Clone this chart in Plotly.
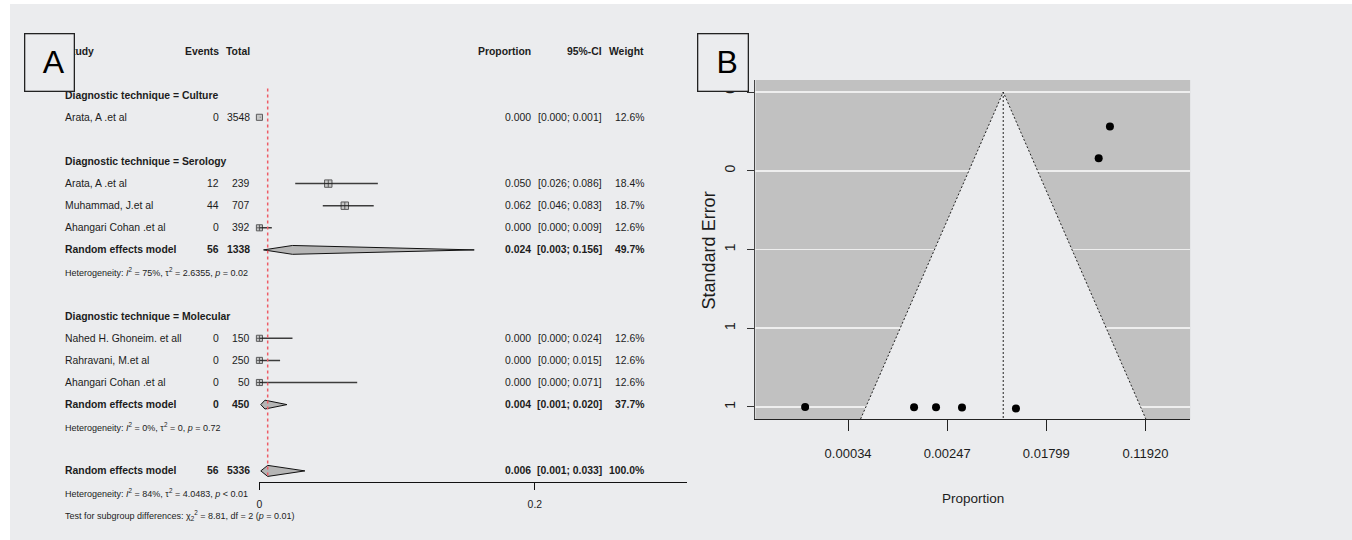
import plotly.graph_objects as go

W, H = 1352, 540

# ---------------- Panel A: forest plot data ----------------
group_names = ["Culture", "Serology", "Molecular"]
study_names = ["Arata, A .et al", "Arata, A .et al", "Muhammad, J.et al", "Ahangari Cohan .et al",
               "Nahed H. Ghoneim. et all", "Rahravani, M.et al", "Ahangari Cohan .et al"]
study_group = [0, 1, 1, 1, 2, 2, 2]
study_events = [0, 12, 44, 0, 0, 0, 0]
study_total = [3548, 239, 707, 392, 150, 250, 50]
study_prop = [0.000, 0.050, 0.062, 0.000, 0.000, 0.000, 0.000]
study_lo = [0.000, 0.026, 0.046, 0.000, 0.000, 0.000, 0.000]
study_hi = [0.001, 0.086, 0.083, 0.009, 0.024, 0.015, 0.071]
study_weight = [12.6, 18.4, 18.7, 12.6, 12.6, 12.6, 12.6]

sub_events = [None, 56, 0]
sub_total = [None, 1338, 450]
sub_prop = [None, 0.024, 0.004]
sub_lo = [None, 0.003, 0.001]
sub_hi = [None, 0.156, 0.020]
sub_weight = [None, 49.7, 37.7]
sub_het_I2 = [None, "75%", "0%"]
sub_het_tau2 = [None, "2.6355", "0"]
sub_het_p = [None, "= 0.02", "= 0.72"]

overall_events = 56
overall_total = 5336
overall_prop = 0.006
overall_lo = 0.001
overall_hi = 0.033
overall_weight = 100.0
overall_het = ("84%", "4.0483", "< 0.01")
subgroup_test = ("8.81", "2", "0.01")

forest_ticks = [0, 0.2]
forest_ticktext = ["0", "0.2"]

# ---------------- Panel B: funnel plot data (logit scale) ----------------
pooled_logit = -4.87
funnel_z = 1.96
pt_logit = [-2.944, -2.717, -8.867, -6.669, -6.226, -5.702, -4.613]
pt_se = [0.297, 0.155, 1.414, 1.415, 1.416, 1.417, 1.421]
funnel_xticks = [-8, -6, -4, -2]
funnel_xticktext = ["0.00034", "0.00247", "0.01799", "0.11920"]
funnel_yticks = [0, 0.3536, 0.7071, 1.0607, 1.4142]
funnel_yticktext = ["0", "0", "1", "1", "1"]

# ---------------- layout helpers ----------------
BG = "#ebecee"
TXT = "#1c1c1c"
FA = "Liberation Sans, Arial, sans-serif"

def px(x):
    return x / W

def py(y):
    return 1 - y / H

ROW0, ROWH = 51.0, 22.1
yA_range = [(H - ROW0) / ROWH, -ROW0 / ROWH]

fig = go.Figure()
ann = []

def txt(xpx, k, s, anchor="left", bold=False, size=10.4):
    if bold:
        s = "<b>" + s + "</b>"
    ann.append(dict(x=px(xpx), xref="paper", y=k, yref="y", text=s, showarrow=False,
                    xanchor=anchor, yanchor="middle", font=dict(family=FA, size=size, color=TXT)))

COL_STUDY, COL_EV, COL_TOT, COL_PROP, COL_CI, COL_W = 60, 218, 250, 531, 602, 644

def fmt_row(k, name, ev, tot, p, lo, hi, w, bold):
    txt(COL_STUDY, k, name, "left", bold)
    txt(COL_EV, k, str(ev), "right", bold)
    txt(COL_TOT, k, str(tot), "right", bold)
    txt(COL_PROP, k, f"{p:.3f}", "right", bold)
    txt(COL_CI, k, f"[{lo:.3f}; {hi:.3f}]", "right", bold)
    txt(COL_W, k, f"{w:.1f}%", "right", bold)

# header
txt(COL_STUDY, 0, "Study", "left", True)
txt(COL_EV, 0, "Events", "right", True)
txt(COL_TOT, 0, "Total", "right", True)
txt(COL_PROP, 0, "Proportion", "right", True)
txt(COL_CI, 0, "95%-CI", "right", True)
txt(COL_W, 0, "Weight", "right", True)

HET = 9.0
study_k = [None] * len(study_names)
diamonds = []  # (k, est, lo, hi, halfheight)
k = 2
for g, gname in enumerate(group_names):
    txt(COL_STUDY, k, f"Diagnostic technique = {gname}", "left", True)
    k += 1
    for i in range(len(study_names)):
        if study_group[i] == g:
            study_k[i] = k
            fmt_row(k, study_names[i], study_events[i], study_total[i], study_prop[i],
                    study_lo[i], study_hi[i], study_weight[i], False)
            k += 1
    if sub_prop[g] is not None:
        fmt_row(k, "Random effects model", sub_events[g], sub_total[g], sub_prop[g],
                sub_lo[g], sub_hi[g], sub_weight[g], True)
        diamonds.append((k, sub_prop[g], sub_lo[g], sub_hi[g], 0.2))
        k += 1
        txt(COL_STUDY, k, f"Heterogeneity: <i>I</i><sup>2</sup> = {sub_het_I2[g]}, τ<sup>2</sup> = {sub_het_tau2[g]}, <i>p</i> {sub_het_p[g]}",
            "left", False, HET)
        k += 1
    k += 1
fmt_row(k, "Random effects model", overall_events, overall_total, overall_prop,
        overall_lo, overall_hi, overall_weight, True)
diamonds.append((k, overall_prop, overall_lo, overall_hi, 0.25))
txt(COL_STUDY, k + 1, f"Heterogeneity: <i>I</i><sup>2</sup> = {overall_het[0]}, τ<sup>2</sup> = {overall_het[1]}, <i>p</i> {overall_het[2]}",
    "left", False, HET)
txt(COL_STUDY, k + 2, f"Test for subgroup differences: χ<sub>2</sub><sup>2</sup> = {subgroup_test[0]}, df = {subgroup_test[1]} (<i>p</i> = {subgroup_test[2]})",
    "left", False, HET)

# CI lines
cx, cy = [], []
for i in range(len(study_names)):
    cx += [study_lo[i], study_hi[i], None]
    cy += [study_k[i], study_k[i], None]
fig.add_trace(go.Scatter(x=cx, y=cy, mode="lines", line=dict(color="#3c3c3c", width=1.5),
                         xaxis="x", yaxis="y", hoverinfo="skip", cliponaxis=False))
# study squares
fig.add_trace(go.Scatter(
    x=study_prop, y=study_k, mode="markers", xaxis="x", yaxis="y", cliponaxis=False,
    marker=dict(symbol=["square" if (study_hi[i] - study_lo[i]) < 0.005 else "square-cross"
                        for i in range(len(study_names))],
                size=[1.72 * w ** 0.5 for w in study_weight], color="#b9b9b9",
                line=dict(color="#1e1e1e", width=1))))
# diamonds
for (dk, est, lo, hi, hh) in diamonds:
    fig.add_trace(go.Scatter(x=[lo, est, hi, est, lo], y=[dk, dk - hh, dk, dk + hh, dk],
                             mode="lines", fill="toself", fillcolor="#b5b5b5",
                             line=dict(color="#111111", width=1), xaxis="x", yaxis="y",
                             cliponaxis=False, hoverinfo="skip"))

# ---------------- Panel B traces ----------------
xB_range = [-9.872, -1.094]
yB_range = [1.4683, -0.0539]
se_bot = yB_range[0]
fl = pooled_logit - funnel_z * se_bot
fr = pooled_logit + funnel_z * se_bot
fig.add_trace(go.Scatter(x=[fl, pooled_logit, fr, fl], y=[se_bot, 0, se_bot, se_bot], mode="none",
                         fill="toself", fillcolor=BG, xaxis="x2", yaxis="y2", hoverinfo="skip"))
fig.add_trace(go.Scatter(x=[fl, pooled_logit, fr], y=[se_bot, 0, se_bot], mode="lines",
                         line=dict(color="#222", width=1, dash="2px,2px"), xaxis="x2", yaxis="y2",
                         hoverinfo="skip"))
fig.add_trace(go.Scatter(x=[pooled_logit, pooled_logit], y=[0, se_bot], mode="lines",
                         line=dict(color="#222", width=1, dash="2px,2px"), xaxis="x2", yaxis="y2",
                         hoverinfo="skip"))
fig.add_trace(go.Scatter(x=pt_logit, y=pt_se, mode="markers", xaxis="x2", yaxis="y2",
                         marker=dict(color="black", size=8), cliponaxis=False))

shapes = [
    dict(type="rect", xref="paper", yref="paper", x0=px(7), x1=1, y0=0, y1=py(4),
         fillcolor=BG, line=dict(width=0), layer="below"),
    dict(type="rect", xref="x2", yref="y2", x0=xB_range[0], x1=xB_range[1], y0=yB_range[0],
         y1=yB_range[1], fillcolor="#c1c1c1", line=dict(width=0), layer="below"),
    dict(type="line", xref="x", yref="y", x0=overall_prop, x1=overall_prop, y0=1.7, y1=19.3,
         line=dict(color="#ee5c66", width=1.5, dash="dot"), layer="above"),
]

# titles for B
ann.append(dict(x=px(972), y=py(498), xref="paper", yref="paper", text="Proportion", showarrow=False,
                font=dict(family=FA, size=13.5, color=TXT), xanchor="center", yanchor="middle"))
ann.append(dict(x=px(708), y=py(250), xref="paper", yref="paper", text="Standard Error", showarrow=False,
                textangle=-90, font=dict(family=FA, size=18, color=TXT), xanchor="center", yanchor="middle"))
# cut-off axis title of panel A (only its top shows in the reference)
ann.append(dict(x=px(341), y=py(544), xref="paper", yref="paper", text="Proportion", showarrow=False,
                font=dict(family=FA, size=10.4, color=TXT), xanchor="left", yanchor="middle"))
# panel letters
ann.append(dict(x=px(47), y=py(62.5), xref="paper", yref="paper", text="\u00a0A", showarrow=False,
                font=dict(family=FA, size=32, color="black"), bgcolor=BG, bordercolor="#222",
                borderwidth=1.3, borderpad=0, width=48, height=56, xanchor="center", yanchor="middle"))
ann.append(dict(x=px(721.5), y=py(62), xref="paper", yref="paper", text="\u00a0B", showarrow=False,
                font=dict(family=FA, size=32, color="black"), bgcolor=BG, bordercolor="#222",
                borderwidth=1.3, borderpad=0, width=49, height=56, xanchor="center", yanchor="middle"))

fig.update_layout(
    width=W, height=H, autosize=False, margin=dict(l=0, r=0, t=0, b=0),
    paper_bgcolor="white", plot_bgcolor="rgba(0,0,0,0)", showlegend=False,
    shapes=shapes, annotations=ann, hovermode=False,
    xaxis=dict(domain=[px(257), px(686)], range=[0, (686 - 257) / 1380], anchor="free",
               position=py(482), showline=True, linecolor="#111", linewidth=1.4,
               ticks="outside", ticklen=7, tickcolor="#111", tickvals=forest_ticks,
               ticktext=forest_ticktext, tickfont=dict(family=FA, size=10.4, color=TXT),
               showgrid=False, zeroline=False, ticklabelstandoff=5, fixedrange=True),
    yaxis=dict(domain=[0, 1], range=yA_range, anchor="x", showgrid=False, zeroline=False,
               showticklabels=False, showline=False, ticks="", fixedrange=True),
    xaxis2=dict(domain=[px(754), px(1190)], range=xB_range, anchor="y2", showline=True,
                linecolor="#222", linewidth=1.3, ticks="outside", ticklen=11, tickcolor="#222",
                tickvals=funnel_xticks, ticktext=funnel_xticktext,
                tickfont=dict(family=FA, size=13, color=TXT), showgrid=False, zeroline=False,
                ticklabelstandoff=11),
    yaxis2=dict(domain=[py(419), py(80)], range=yB_range, anchor="x2", showline=True,
                linecolor="#444", linewidth=1, ticks="outside", ticklen=7, tickcolor="#333",
                tickvals=funnel_yticks, ticktext=funnel_yticktext, tickangle=-90,
                tickfont=dict(family=FA, size=14, color=TXT), showgrid=True,
                gridcolor="#eeeeee", gridwidth=1.5, zeroline=False, ticklabelstandoff=7),
)

fig.write_html("out.html", config={"displayModeBar": False, "staticPlot": True},
               post_script="document.body.style.margin='0';document.body.style.overflow='hidden';")
